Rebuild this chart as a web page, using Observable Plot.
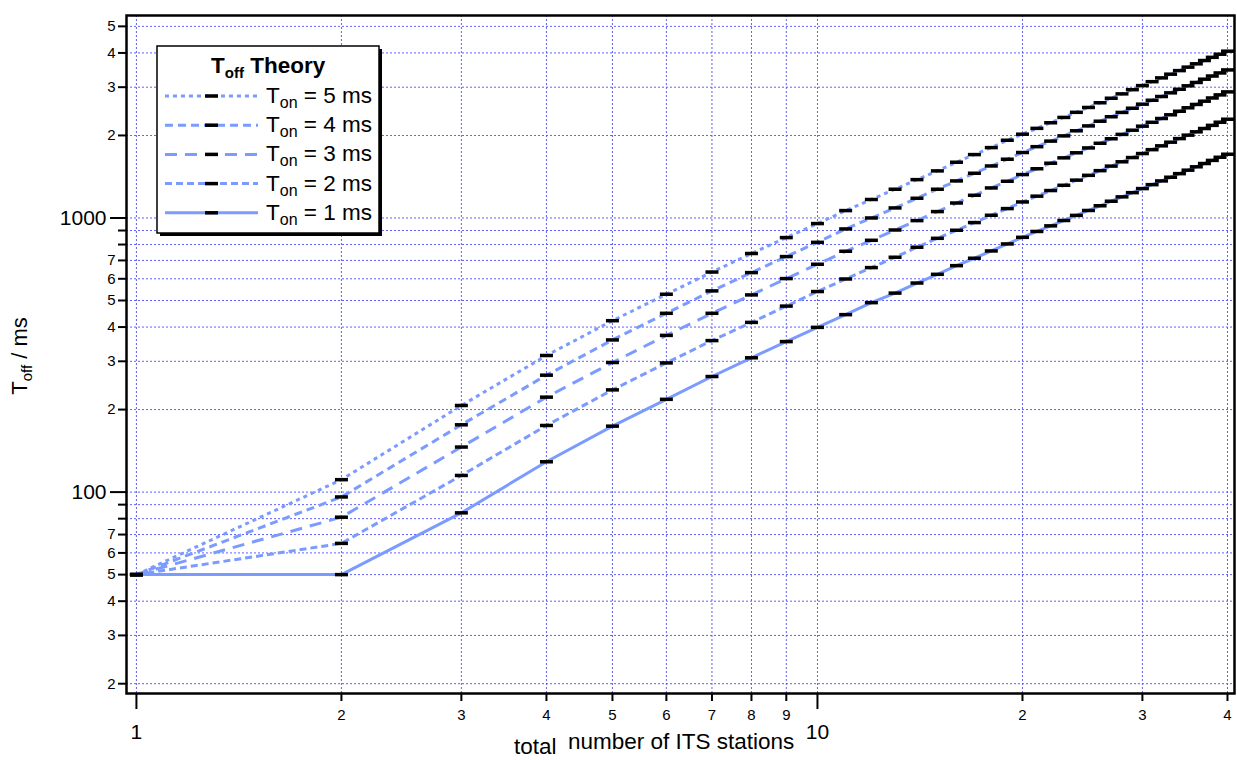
<!DOCTYPE html>
<html>
<head>
<meta charset="utf-8">
<script src="https://cdn.jsdelivr.net/npm/d3@7"></script>
<script src="https://cdn.jsdelivr.net/npm/@observablehq/plot@0.6"></script>
<style>
  html, body { margin: 0; padding: 0; background: #fff; }
  #chart svg { display: block; }
</style>
</head>
<body>
<div id="chart"></div>
<script>
// ---------------- data ----------------
const stations = [1,2,3,4,5,6,7,8,9,10,11,12,13,14,15,16,17,18,19,20,21,22,23,24,25,26,27,28,29,30,31,32,33,34,35,36,37,38,39,40];
const toffTon1 = [50,50,84,129,174,218,264,309,354,399,444,491,532,579,623,670,713,758,804,850,893,936,979,1022,1065,1108,1151,1194,1237,1280,1323,1365,1408,1451,1494,1537,1580,1622,1665,1708];
const toffTon2 = [50,65,115,175,236,296,357,416,477,539,599,659,719,782,843,902,962,1023,1082,1144,1201,1259,1316,1374,1431,1488,1546,1603,1661,1718,1775,1833,1890,1948,2005,2062,2120,2177,2235,2292];
const toffTon3 = [50,81,146,222,297,373,449,524,601,678,756,829,904,978,1055,1134,1210,1287,1361,1440,1512,1584,1657,1729,1801,1873,1945,2018,2090,2162,2234,2306,2379,2451,2523,2595,2667,2740,2812,2884];
const toffTon4 = [50,96,176,267,359,449,542,632,723,815,912,1000,1088,1180,1273,1365,1456,1548,1638,1733,1820,1907,1993,2080,2167,2254,2340,2427,2514,2601,2688,2774,2861,2948,3035,3121,3208,3295,3381,3468];
const toffTon5 = [50,111,207,315,422,527,635,742,848,954,1064,1168,1273,1380,1485,1597,1703,1806,1921,2021,2123,2225,2327,2429,2530,2632,2734,2836,2938,3040,3142,3244,3346,3448,3550,3651,3753,3855,3957,4059];
const tonValues = [1, 2, 3, 4, 5];           // ms
const legendOrder = [5, 4, 3, 2, 1];

const yTicksLabeled = [20,30,40,50,60,70,200,300,400,500,600,700,2000,3000,4000,5000];
const yTicksUnlabeled = [80,90,800,900];
const yTicksMajor = [100,1000];
const xTicksMinor = [2,3,4,5,6,7,8,9,20,30,40];
const xTicksMajor = [1,10];

// ---------------- styles ----------------
const FONT = "Liberation Sans, Arial, Helvetica, sans-serif";
const LINE = "#7b9bff";
const GRID = "#5f5fff";
const dashFor = {1: null, 2: "7,4", 3: "12,8", 4: "8,5", 5: "4,4"};
const seriesArr = [toffTon1, toffTon2, toffTon3, toffTon4, toffTon5];

const rows = tonValues.map((ton, i) =>
  stations.map((n, j) => ({n, v: seriesArr[i][j], ton})));

const markerSymbol = {
  draw(context, size) { context.rect(-6.5, -1.75, 13, 3.5); }
};

const allY = [...yTicksLabeled, ...yTicksUnlabeled, ...yTicksMajor];
const allX = [...xTicksMinor, ...xTicksMajor];

const lineMarks = rows.map((r, i) => Plot.line(r, {
  x: "n", y: "v", stroke: LINE, strokeWidth: 3,
  strokeDasharray: dashFor[tonValues[i]] || undefined,
  strokeLinecap: "butt"
}));

const chart = Plot.plot({
  width: 1237,
  height: 760,
  marginLeft: 126,
  marginRight: 3,
  marginTop: 15,
  marginBottom: 67,
  style: {fontFamily: FONT, background: "white", color: "black"},
  x: {type: "log", domain: [0.967, 40.96], label: null},
  y: {type: "log", domain: [18.42, 5478], label: null},
  marks: [
    Plot.gridY(allY, {stroke: GRID, strokeOpacity: 1, strokeDasharray: "2,2", strokeWidth: 1}),
    Plot.gridX(allX, {stroke: GRID, strokeOpacity: 1, strokeDasharray: "2,2", strokeWidth: 1}),
    ...lineMarks,
    ...rows.map(r => Plot.dot(r, {x: "n", y: "v", symbol: markerSymbol, fill: "black", stroke: null, r: 4})),
    Plot.axisY(yTicksLabeled, {anchor: "left", label: null, tickSize: 8, tickPadding: 3, strokeWidth: 2,
      fontSize: 15, tickFormat: d => String(d)[0]}),
    Plot.axisY(yTicksUnlabeled, {anchor: "left", label: null, tickSize: 8, tickPadding: 3, strokeWidth: 2,
      tickFormat: () => ""}),
    Plot.axisY(yTicksMajor, {anchor: "left", label: null, tickSize: 16, tickPadding: 4, strokeWidth: 2,
      fontSize: 21, tickFormat: d => String(d)}),
    Plot.axisX(xTicksMinor, {anchor: "bottom", label: null, tickSize: 8, tickPadding: 8, strokeWidth: 2,
      fontSize: 15, tickFormat: d => String(d)[0]}),
    Plot.axisX(xTicksMajor, {anchor: "bottom", label: null, tickSize: 16, tickPadding: 15, strokeWidth: 2,
      fontSize: 21, tickFormat: d => String(d)}),
    Plot.frame({stroke: "black", strokeWidth: 2.5})
  ]
});

document.getElementById("chart").appendChild(chart);

// ---------------- labels & legend ----------------
const svg = d3.select(chart);

// y-axis title: T_off / ms
const yl = svg.append("text")
  .attr("transform", "translate(27,356) rotate(-90)")
  .attr("text-anchor", "middle")
  .attr("font-family", FONT).attr("font-size", 22).attr("fill", "black");
yl.append("tspan").text("T");
yl.append("tspan").attr("font-size", 15).attr("dy", 5).text("off");
yl.append("tspan").attr("dy", -5).text(" / ms");

// x-axis title
const xl = svg.append("text").attr("text-anchor", "start")
  .attr("font-family", FONT).attr("font-size", 22.5).attr("fill", "black");
xl.append("tspan").attr("x", 514).attr("y", 754).text("total");
xl.append("tspan").attr("x", 568).attr("y", 749).text("number of ITS stations");

// legend
const lg = svg.append("g").attr("text-anchor", "start");
lg.append("rect").attr("x", 160).attr("y", 49).attr("width", 222).attr("height", 187).attr("fill", "black");
lg.append("rect").attr("x", 157).attr("y", 46).attr("width", 222).attr("height", 187)
  .attr("fill", "white").attr("stroke", "black").attr("stroke-width", 1.5);
const lt = lg.append("text").attr("x", 211).attr("y", 73).attr("text-anchor", "start")
  .attr("font-family", FONT).attr("font-size", 22.5).attr("font-weight", "bold").attr("fill", "black");
lt.append("tspan").text("T");
lt.append("tspan").attr("font-size", 15).attr("dy", 5).text("off");
lt.append("tspan").attr("dy", -5).text(" Theory");

legendOrder.forEach((ton, k) => {
  const y = 96 + k * 29.2;
  const ln = lg.append("line").attr("x1", 165).attr("x2", 258).attr("y1", y).attr("y2", y)
    .attr("stroke", LINE).attr("stroke-width", 3);
  if (dashFor[ton]) ln.attr("stroke-dasharray", dashFor[ton]);
  lg.append("rect").attr("x", 205).attr("y", y - 1.75).attr("width", 13).attr("height", 3.5).attr("fill", "black");
  const t = lg.append("text").attr("x", 266).attr("y", y + 7).attr("text-anchor", "start")
    .attr("font-family", FONT).attr("font-size", 22.5).attr("fill", "black");
  t.append("tspan").text("T");
  t.append("tspan").attr("font-size", 16).attr("dy", 5).text("on");
  t.append("tspan").attr("dy", -5).text(" = " + ton + " ms");
});
</script>
</body>
</html>
